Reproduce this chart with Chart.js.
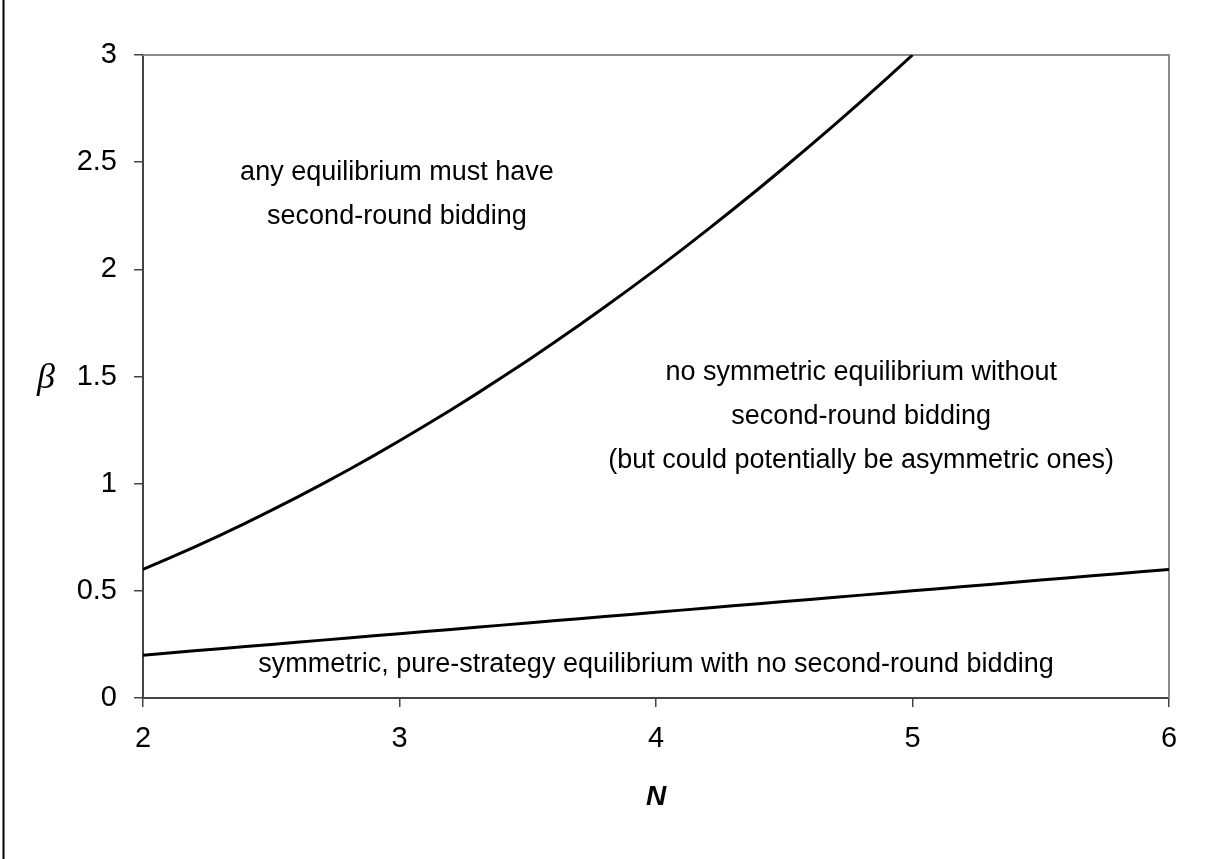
<!DOCTYPE html>
<html>
<head>
<meta charset="utf-8">
<script src="https://cdn.jsdelivr.net/npm/chart.js@4.4.1/dist/chart.umd.min.js"></script>
<style>
  body { margin: 0; background: #fff; }
  #wrap { width: 1211px; height: 859px; position: relative; }
</style>
</head>
<body>
<div id="wrap"><canvas id="js--grafiek"></canvas></div>
<script>
// N values (0.1 steps) and the two boundary curves
const nValues = [2.0, 2.1, 2.2, 2.3, 2.4, 2.5, 2.6, 2.7, 2.8, 2.9,
                 3.0, 3.1, 3.2, 3.3, 3.4, 3.5, 3.6, 3.7, 3.8, 3.9,
                 4.0, 4.1, 4.2, 4.3, 4.4, 4.5, 4.6, 4.7, 4.8, 4.9,
                 5.0, 5.1, 5.2, 5.3, 5.4, 5.5, 5.6, 5.7, 5.8, 5.9, 6.0];
const betaUpper = [0.600, 0.651, 0.704, 0.759, 0.816, 0.875, 0.936, 0.999, 1.064, 1.131,
                   1.200, 1.271, 1.344, 1.419, 1.496, 1.575, 1.656, 1.739, 1.824, 1.911,
                   2.000, 2.091, 2.184, 2.279, 2.376, 2.475, 2.576, 2.679, 2.784, 2.891,
                   3.000];
const betaLower = [0.20, 0.21, 0.22, 0.23, 0.24, 0.25, 0.26, 0.27, 0.28, 0.29,
                   0.30, 0.31, 0.32, 0.33, 0.34, 0.35, 0.36, 0.37, 0.38, 0.39,
                   0.40, 0.41, 0.42, 0.43, 0.44, 0.45, 0.46, 0.47, 0.48, 0.49,
                   0.50, 0.51, 0.52, 0.53, 0.54, 0.55, 0.56, 0.57, 0.58, 0.59,
                   0.60];
const xTicks = [2, 3, 4, 5, 6];
const yTicks = [0, 0.5, 1, 1.5, 2, 2.5, 3];

const upperNote = ["any equilibrium must have", "second-round bidding"];
const middleNote = ["no symmetric equilibrium without", "second-round bidding",
                    "(but could potentially be asymmetric ones)"];
const lowerNote = ["symmetric, pure-strategy equilibrium with no second-round bidding"];

function toPoints(xs, ys) {
  return ys.map(function (y, i) { return { x: xs[i], y: y }; });
}

const font = '"Liberation Sans", Arial, sans-serif';

const notes = {
  id: "notes",
  beforeDraw(chart) {
    const ctx = chart.ctx;
    ctx.save();
    ctx.strokeStyle = "#000";
    ctx.lineWidth = 2;
    ctx.beginPath();
    ctx.moveTo(3.5, 0);
    ctx.lineTo(3.5, chart.height);
    ctx.stroke();
    ctx.restore();
  },
  beforeDatasetsDraw(chart) {
    const a = chart.chartArea;
    const ctx = chart.ctx;
    ctx.save();
    ctx.strokeStyle = "#8c8c8c";
    ctx.lineWidth = 2;
    ctx.beginPath();
    ctx.moveTo(a.left, a.top);
    ctx.lineTo(a.right, a.top);
    ctx.lineTo(a.right, a.bottom);
    ctx.stroke();
    ctx.restore();
  },
  afterDatasetsDraw(chart) {
    const ctx = chart.ctx;
    const x = chart.scales.x;
    const y = chart.scales.y;
    ctx.save();
    ctx.fillStyle = "#000";
    ctx.textAlign = "center";
    ctx.textBaseline = "middle";
    ctx.font = "27px " + font;
    function block(lines, n, b) {
      const cx = x.getPixelForValue(n);
      const cy = y.getPixelForValue(b);
      lines.forEach(function (t, i) { ctx.fillText(t, cx, cy + i * 44); });
    }
    block(upperNote, 2.99, 2.45);
    block(middleNote, 4.8, 1.52);
    block(lowerNote, 4.0, 0.155);
    // y axis symbol, not rotated
    ctx.font = 'italic 36px "Liberation Serif", "Times New Roman", serif';
    ctx.fillText("\u03B2", 46, y.getPixelForValue(1.5) + 2);
    ctx.restore();
  }
};

const config = {
  type: "line",
  data: {
    datasets: [
      { label: "upper", data: toPoints(nValues, betaUpper), borderColor: "#000",
        borderWidth: 3, pointRadius: 0, tension: 0, fill: false },
      { label: "lower", data: toPoints(nValues, betaLower), borderColor: "#000",
        borderWidth: 3, pointRadius: 0, tension: 0, fill: false }
    ]
  },
  options: {
    responsive: true,
    maintainAspectRatio: false,
    animation: false,
    layout: { padding: { top: 55, right: 42, left: 0, bottom: 0 } },
    plugins: { legend: { display: false }, tooltip: { enabled: false } },
    scales: {
      x: {
        type: "linear",
        min: 2, max: 6,
        afterBuildTicks: function (s) { s.ticks = xTicks.map(function (v) { return { value: v }; }); },
        afterFit: function (s) { s.height = 161; },
        grid: { drawOnChartArea: false, drawTicks: true, tickLength: 9, color: "#444", lineWidth: 1.5 },
        border: { color: "#444", width: 2 },
        ticks: { color: "#000", padding: 15, maxRotation: 0, font: { size: 29, family: font },
                 callback: function (v) { return String(v); } },
        title: { display: true, text: "N", color: "#000",
                 font: { size: 28, family: font, weight: "bold", style: "italic" },
                 padding: { top: 0, bottom: 45 } }
      },
      y: {
        min: 0, max: 3,
        afterBuildTicks: function (s) { s.ticks = yTicks.map(function (v) { return { value: v }; }); },
        afterFit: function (s) { s.width = 143; },
        grid: { drawOnChartArea: false, drawTicks: true, tickLength: 9, color: "#444", lineWidth: 1.5 },
        border: { color: "#444", width: 2 },
        ticks: { color: "#000", padding: 17, font: { size: 29, family: font },
                 callback: function (v) { return String(v); } }
      }
    }
  },
  plugins: [notes]
};

const chart1 = new Chart(document.getElementById("js--grafiek"), config);
</script>
</body>
</html>
